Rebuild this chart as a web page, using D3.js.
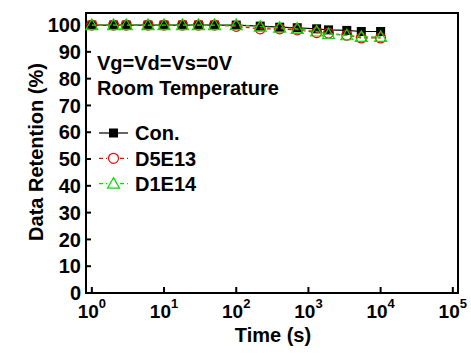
<!DOCTYPE html>
<html>
<head>
<meta charset="utf-8">
<script src="https://cdn.jsdelivr.net/npm/d3@7"></script>
<style>
  body { margin: 0; background: #fff; }
  text { font-family: "Liberation Sans", Arial, sans-serif; font-weight: bold; fill: #000; }
</style>
</head>
<body>
<svg id="chart" width="471" height="355"></svg>
<script>
// Retention data
const times = [1, 2, 3, 6, 10, 18, 30, 50, 100, 215, 400, 700, 1300, 1900, 3400, 5400, 10000];
const con   = [100, 100, 100, 100, 100, 100, 100, 100, 100, 99.6, 99.2, 99, 98.6, 98.2, 98, 97.6, 97.6];
const d5e13 = [100, 100, 100, 100, 100, 100, 100, 100, 99.5, 98.6, 98.6, 98.2, 97.2, 97, 96.2, 95.2, 95.2];
const d1e14 = [100, 100, 100, 100, 100, 100, 100, 100, 100, 99.4, 99, 98.6, 97.6, 96.6, 96.2, 95.6, 95.6];
const yTicks = [0, 10, 20, 30, 40, 50, 60, 70, 80, 90, 100];
const xTicks = [0, 1, 2, 3, 4, 5];

const series = [
    { name: "Con.", values: con, color: "#000", shape: "square", dash: null },
    { name: "D5E13", values: d5e13, color: "#ff0000", shape: "circle", dash: "4,3" },
    { name: "D1E14", values: d1e14, color: "#00e000", shape: "triangle", dash: "4,3" }
];

let svg = d3.select("#chart");
let pl = 86, pr = 458, pt = 13, pb = 293;

let x = d3.scaleLog().domain([0.83, 1.18e5]).range([pl, pr]);
let y = d3.scaleLinear().domain([0, 104.5]).range([pb, pt]);

// frame
svg.append("rect")
    .attr("x", pl).attr("y", pt)
    .attr("width", pr - pl).attr("height", pb - pt)
    .style("fill", "none").style("stroke", "#000").style("stroke-width", 2);

// x ticks (inward) and labels
let xt = svg.selectAll(".xtick").data(xTicks).join("g")
    .attr("class", "xtick")
    .attr("transform", d => "translate(" + x(Math.pow(10, d)) + ",0)");
xt.append("line")
    .attr("y1", pb).attr("y2", pb - 6)
    .style("stroke", "#000").style("stroke-width", 2);
let xl = xt.append("text")
    .attr("y", 318)
    .attr("text-anchor", "middle")
    .style("font-size", "19px");
xl.append("tspan").text("10");
xl.append("tspan").attr("dy", -10).style("font-size", "13px").text(d => d);

// y ticks and labels
let yt = svg.selectAll(".ytick").data(yTicks).join("g")
    .attr("class", "ytick")
    .attr("transform", d => "translate(0," + y(d) + ")");
yt.append("line")
    .attr("x1", pl).attr("x2", pl + 5)
    .style("stroke", "#000").style("stroke-width", 2);
yt.append("text")
    .attr("x", 81)
    .attr("dy", "0.36em")
    .attr("text-anchor", "end")
    .style("font-size", "20px")
    .text(d => d);

// axis titles
svg.append("text")
    .attr("x", 273).attr("y", 342)
    .attr("text-anchor", "middle")
    .style("font-size", "20px")
    .text("Time (s)");
svg.append("text")
    .attr("transform", "translate(43,152) rotate(-90)")
    .attr("text-anchor", "middle")
    .style("font-size", "20px")
    .text("Data Retention (%)");

// annotations
svg.append("text").attr("x", 97).attr("y", 70).style("font-size", "20px").text("Vg=Vd=Vs=0V");
svg.append("text").attr("x", 97).attr("y", 95).style("font-size", "20px").text("Room Temperature");

function drawMarker(g, shape, color) {
    if (shape === "square") {
        g.append("rect").attr("x", -4.5).attr("y", -4.5).attr("width", 9).attr("height", 9)
            .style("fill", color);
    } else if (shape === "circle") {
        g.append("circle").attr("r", 5)
            .style("fill", "none").style("stroke", color).style("stroke-width", 1.2);
    } else {
        g.append("path").attr("d", "M0,-6L6,4.5L-6,4.5Z")
            .style("fill", "none").style("stroke", color).style("stroke-width", 1.2);
    }
}

let line = d3.line().x((d, i) => x(times[i])).y(d => y(d));

series.forEach(s => {
    svg.append("path")
        .datum(s.values)
        .attr("d", line)
        .style("fill", "none")
        .style("stroke", s.color)
        .style("stroke-width", 1.2)
        .style("stroke-dasharray", s.dash);
    svg.selectAll(".m-" + s.shape).data(s.values).join("g")
        .attr("class", "m-" + s.shape)
        .attr("transform", (d, i) => "translate(" + x(times[i]) + "," + y(d) + ")")
        .each(function () { drawMarker(d3.select(this), s.shape, s.color); });
});

// legend
let lg = svg.selectAll(".legend").data(series).join("g")
    .attr("class", "legend")
    .attr("transform", (d, i) => "translate(99," + (133 + i * 25.3) + ")");
lg.append("line")
    .attr("x1", 0).attr("x2", 29)
    .style("stroke", d => d.color).style("stroke-width", 1.2)
    .style("stroke-dasharray", d => d.dash);
lg.each(function (d) {
    let g = d3.select(this).append("g").attr("transform", "translate(14.5,0)");
    if (d.shape !== "square") g.append("rect").attr("x", -6.5).attr("y", -6.5).attr("width", 13).attr("height", 12).style("fill", "#fff");
    drawMarker(g, d.shape, d.color);
});
lg.append("text")
    .attr("x", 36).attr("dy", "0.36em")
    .style("font-size", "20px")
    .text(d => d.name);
</script>
</body>
</html>
